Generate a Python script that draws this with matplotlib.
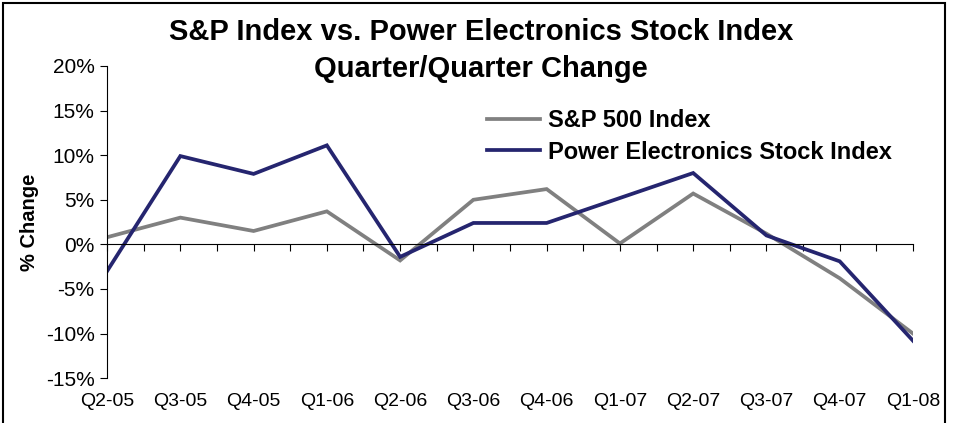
import matplotlib.pyplot as plt
from matplotlib.patches import Rectangle
from matplotlib.ticker import FuncFormatter, MultipleLocator

quarters = ['Q2-05', 'Q3-05', 'Q4-05', 'Q1-06', 'Q2-06', 'Q3-06',
            'Q4-06', 'Q1-07', 'Q2-07', 'Q3-07', 'Q4-07', 'Q1-08']
sp500 = [0.8, 3.0, 1.5, 3.7, -1.8, 5.0, 6.2, 0.1, 5.7, 1.2, -3.8, -10.0]
power_elec = [-3.0, 9.9, 7.9, 11.1, -1.4, 2.4, 2.4, 5.2, 8.0, 1.0, -1.9, -10.8]

plt.rcParams['font.family'] = ['Liberation Sans', 'DejaVu Sans']

fig = plt.figure(figsize=(9.56, 4.23), dpi=100)
ax = fig.add_axes([0.112, 0.106, 0.843, 0.738])

x = list(range(len(quarters)))
ax.plot(x, sp500, color='#808080', lw=2.7, label='S&P 500 Index', solid_joinstyle='miter')
ax.plot(x, power_elec, color='#25256f', lw=2.7, label='Power Electronics Stock Index',
        solid_joinstyle='miter')

ax.set_xlim(0, len(quarters) - 1)
ax.set_ylim(-15, 20)
ax.yaxis.set_major_locator(MultipleLocator(5))
ax.yaxis.set_major_formatter(FuncFormatter(lambda v, p: f'{v:.0f}%'))
ax.tick_params(axis='y', direction='out', length=5, width=0.8, labelsize=15, pad=4)

# zero line carries the category ticks, labels sit at the bottom
ax.spines['top'].set_visible(False)
ax.spines['right'].set_visible(False)
ax.spines['bottom'].set_position(('data', 0))
ax.spines['left'].set_linewidth(0.8)
ax.spines['bottom'].set_linewidth(0.8)
ax.set_xticks(x)
ax.set_xticks([i + 0.5 for i in x[:-1]], minor=True)
ax.tick_params(axis='x', which='both', direction='out', length=5, width=0.8,
               labelbottom=False)

sec = ax.secondary_xaxis(0)
sec.set_xticks(x)
sec.set_xticklabels(quarters)
sec.tick_params(length=0, labelsize=14, pad=11)
sec.spines['bottom'].set_visible(False)

ax.set_ylabel('% Change', fontsize=14.5, fontweight='bold', labelpad=5)

fig.suptitle('S&P Index vs. Power Electronics Stock Index\nQuarter/Quarter Change',
             x=0.503, y=0.957, fontsize=21, fontweight='bold', linespacing=1.38)

ax.legend(loc='upper left', bbox_to_anchor=(0.471, 0.862), frameon=False,
          prop={'weight': 'bold', 'size': 17}, handlelength=2.25,
          handletextpad=0.35, labelspacing=0.36, borderaxespad=0, borderpad=0)

fig.patches.append(Rectangle((0.003, -0.01), 0.986, 1.003, transform=fig.transFigure,
                             fill=False, edgecolor='black', lw=1.5))

fig.savefig('out.png', dpi=100)
